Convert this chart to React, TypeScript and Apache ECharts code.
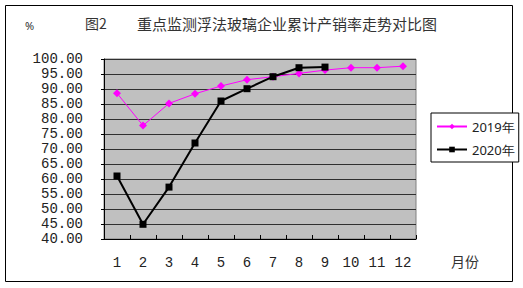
import React, { useEffect, useRef } from "react";
import * as echarts from "echarts";

const months = ["1", "2", "3", "4", "5", "6", "7", "8", "9", "10", "11", "12"];
const series2019 = [88.6, 77.8, 85.2, 88.4, 91.0, 93.1, 94.1, 95.2, 96.3, 97.1, 97.1, 97.6];
const series2020 = [61.0, 44.9, 57.3, 72.0, 86.0, 90.1, 94.1, 97.1, 97.3];
const seriesNames = ["2019年", "2020年"];
const titleLead = "图2";
const titleMain = "重点监测浮法玻璃企业累计产销率走势对比图";
const unitLabel = "%";
const xAxisTitle = "月份";

export default function App() {
  const ref = useRef<HTMLDivElement>(null);
  useEffect(() => {
    document.body.style.margin = "0";
    const chart = echarts.init(ref.current!, undefined, { renderer: "svg" });
    chart.setOption({
      animation: false,
      backgroundColor: "#ffffff",
      grid: {
        left: 104,
        top: 59,
        width: 312,
        height: 180,
        show: true,
        backgroundColor: "#C0C0C0",
        borderColor: "#808080",
        borderWidth: 1,
      },
      legend: {
        orient: "vertical",
        left: 431,
        top: 113,
        padding: [6, 4, 5, 5],
        itemGap: 8,
        itemWidth: 30,
        itemHeight: 7,
        borderColor: "#000",
        borderWidth: 1,
        backgroundColor: "#fff",
        textStyle: { fontFamily: "Noto Sans", fontSize: 13, color: "#222", lineHeight: 15 },
        data: seriesNames,
      },
      xAxis: {
        type: "category",
        data: months,
        boundaryGap: true,
        axisLine: { lineStyle: { color: "#000", width: 1 } },
        axisTick: { show: true, inside: true, length: 4, lineStyle: { color: "#000" } },
        axisLabel: {
          margin: 17,
          fontFamily: "Liberation Mono",
          fontSize: 14,
          color: "#222",
        },
        splitLine: { show: false },
      },
      yAxis: {
        type: "value",
        min: 40,
        max: 100,
        interval: 5,
        axisLine: { show: true, lineStyle: { color: "#000", width: 1 } },
        axisTick: { show: true, length: 3, lineStyle: { color: "#000" } },
        axisLabel: {
          margin: 21,
          fontFamily: "Liberation Mono",
          fontSize: 14,
          color: "#222",
          formatter: (v: number) => v.toFixed(2),
        },
        splitLine: { show: true, lineStyle: { color: "#303030", width: 1 } },
      },
      series: [
        {
          name: seriesNames[0],
          type: "line",
          data: series2019,
          symbol: "diamond",
          symbolSize: 8,
          lineStyle: { color: "#FF00FF", width: 1 },
          itemStyle: { color: "#FF00FF" },
        },
        {
          name: seriesNames[1],
          type: "line",
          data: series2020,
          symbol: "rect",
          symbolSize: 7,
          lineStyle: { color: "#000", width: 2 },
          itemStyle: { color: "#000" },
        },
      ],
      graphic: [
        {
          type: "rect",
          shape: { x: 5.5, y: 5.5, width: 507, height: 276 },
          style: { fill: "none", stroke: "#000", lineWidth: 1 },
          z: -1,
        },
        {
          type: "text",
          x: 25,
          y: 25,
          style: {
            text: unitLabel,
            fontSize: 11,
            fontFamily: "Noto Sans",
            fill: "#333",
            align: "left",
            verticalAlign: "middle",
          },
        },
        {
          type: "text",
          x: 85,
          y: 23,
          style: {
            text: titleLead,
            fontSize: 14,
            fontFamily: "Noto Sans CJK SC",
            fill: "#333",
            align: "left",
            verticalAlign: "middle",
          },
        },
        {
          type: "text",
          x: 287,
          y: 23,
          style: {
            text: titleMain,
            fontSize: 15,
            fontFamily: "Noto Sans CJK SC",
            fill: "#333",
            align: "center",
            verticalAlign: "middle",
          },
        },
        {
          type: "text",
          x: 465,
          y: 261,
          style: {
            text: xAxisTitle,
            fontSize: 14,
            fontFamily: "Noto Sans CJK SC",
            fill: "#333",
            align: "center",
            verticalAlign: "middle",
          },
        },
      ],
    });
    return () => chart.dispose();
  }, []);
  return <div ref={ref} style={{ width: 523, height: 288 }} />;
}
